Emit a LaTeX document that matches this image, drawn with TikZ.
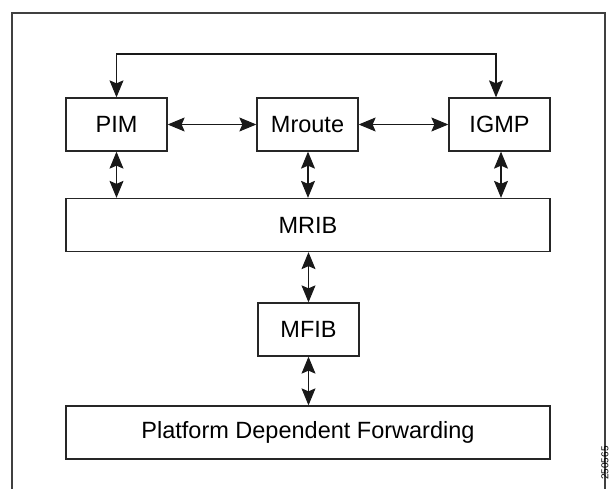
\documentclass[tikz,border=0pt]{standalone}
\usepackage{fontspec}
\setmainfont{Liberation Sans}
\usetikzlibrary{arrows.meta}
\begin{document}
\begin{tikzpicture}[x=1pt,y=-1pt,
    blk/.style={draw=black!85,line width=1.3pt,minimum height=53pt,inner sep=0pt,font=\fontsize{23.5}{26}\selectfont},
    lnk/.style={line width=1.1pt,black!90,{Stealth[length=17pt,width=14pt,inset=3pt]}-{Stealth[length=17pt,width=14pt,inset=3pt]}}]
    \useasboundingbox (0,0) rectangle (613,489);
    % frame
    \draw [black!75,line width=1.5pt] (12,489) -- (12,13) -- (605,13) -- (605,489);
    \node [rotate=90,font=\fontsize{10}{10}\selectfont,name=fig] at (605,463) {250565};

    % top row
    \node [blk,minimum width=101pt,name=pim] at (116.5,124.5) {PIM};
    \node [blk,minimum width=101pt,name=mroute] at (307.5,124.5) {Mroute};
    \node [blk,minimum width=101pt,name=igmp] at (499.5,124.5) {IGMP};
    \coordinate (top) at (300,54);
    \draw [lnk] (pim.north) |- (top) -| ([xshift=-3.5pt]igmp.north);
    \draw [lnk] (pim) -- (mroute);
    \draw [lnk] (mroute) -- (igmp);

    % mrib
    \node [blk,minimum width=484pt,name=mrib] at (308,225) {MRIB};
    \draw [lnk] (pim.south) -- (pim.south |- mrib.north);
    \draw [lnk] ([xshift=0.5pt]mroute.south) -- ([xshift=0.5pt]mroute.south |- mrib.north);
    \draw [lnk] ([xshift=1.5pt]igmp.south) -- ([xshift=1.5pt]igmp.south |- mrib.north);

    % mfib and forwarding
    \node [blk,minimum width=101pt,name=mfib] at (308.5,329.5) {MFIB};
    \node [blk,minimum width=484pt,name=pdf] at (308,432.5) {Platform Dependent Forwarding};
    \draw [lnk] (mrib.south -| mfib.north) -- (mfib.north);
    \draw [lnk] (mfib.south) -- (mfib.south |- pdf.north);
  \end{tikzpicture}
\end{document}
